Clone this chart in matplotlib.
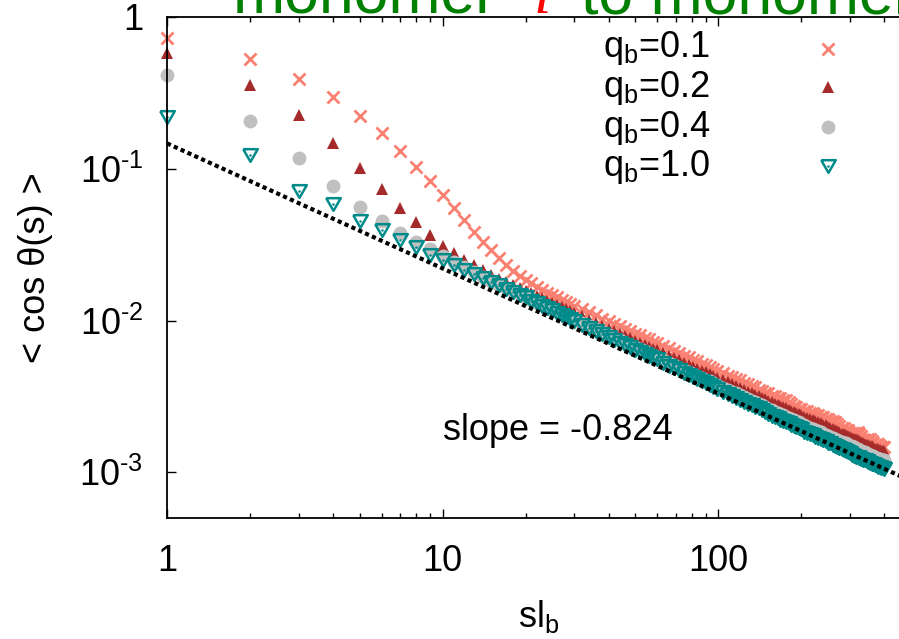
import matplotlib
matplotlib.use("Agg")
import matplotlib.pyplot as plt
from matplotlib.ticker import FixedLocator, FixedFormatter, NullLocator, LogLocator, NullFormatter

plt.rcParams['font.family'] = ['Liberation Sans', 'DejaVu Sans']
plt.rcParams['mathtext.fontset'] = 'custom'
plt.rcParams['mathtext.rm'] = 'Liberation Sans'
plt.rcParams['mathtext.it'] = 'Liberation Sans:italic'
plt.rcParams['mathtext.bf'] = 'Liberation Sans:bold'
plt.rcParams['axes.unicode_minus'] = False

# ---------------- data ----------------
s_vals = [1, 2, 3, 4, 5, 6, 7, 8, 9, 10,
          11, 12, 13, 14, 15, 16, 17, 18, 19, 20,
          21, 22, 23, 24, 25, 26, 27, 28, 29, 30,
          32, 34, 36, 38, 40, 42, 44, 46, 48, 50, 52, 54, 56, 58, 60,
          63, 66, 69, 72, 75, 78, 81, 84, 87, 90, 93, 96, 99,
          104, 108, 112, 116, 120, 124, 128, 132, 136, 140, 144, 148, 152, 156, 160,
          164, 168, 172, 176, 180, 184, 188, 192, 196, 200,
          205, 210, 215, 220, 225, 230, 235, 240, 245, 250,
          255, 260, 265, 270, 275, 280, 285, 290, 295, 300,
          305, 310, 315, 320, 325, 330, 335, 340, 345, 350,
          355, 360, 365, 370, 375, 380, 385, 390, 395, 400]

cos_q01 = [0.727, 0.528, 0.388, 0.295, 0.223, 0.171, 0.130, 0.103, 0.0825, 0.0670,
           0.0548, 0.0457, 0.0384, 0.0331, 0.0290, 0.0257, 0.0232, 0.0213, 0.0197, 0.0186,
           0.0176, 0.0167, 0.0160, 0.0153, 0.0147, 0.0142, 0.0137, 0.0133, 0.0129, 0.0125,
           0.0119, 0.0113, 0.0108, 0.0103, 0.00991, 0.00946, 0.00917, 0.00878, 0.00853, 0.00819,
           0.00805, 0.00769, 0.00752, 0.00725, 0.00711,
           0.00678, 0.00662, 0.00629, 0.00612, 0.00587, 0.00577, 0.00550, 0.00539, 0.00519, 0.00513,
           0.00491, 0.00482, 0.00466,
           0.00451, 0.00431, 0.00424, 0.00410, 0.00403, 0.00385, 0.00381, 0.00368, 0.00365, 0.00349,
           0.00345, 0.00335, 0.00332, 0.00318, 0.00316, 0.00308, 0.00309, 0.00299, 0.00300, 0.00290,
           0.00280, 0.00272, 0.00270, 0.00262, 0.00262,
           0.00253, 0.00252, 0.00245, 0.00246, 0.00238, 0.00239, 0.00231, 0.00232, 0.00224, 0.00225,
           0.00219, 0.00219, 0.00213, 0.00207, 0.00202, 0.00196, 0.00196, 0.00189, 0.00189, 0.00182,
           0.00182, 0.00182, 0.00182, 0.00183, 0.00178, 0.00174, 0.00167, 0.00163, 0.00163, 0.00165,
           0.00165, 0.00161, 0.00156, 0.00151, 0.00153, 0.00154, 0.00150, 0.00147, 0.00147, 0.00146]

cos_q02 = [0.581, 0.356, 0.225, 0.148, 0.101, 0.0740, 0.0555, 0.0446, 0.0367, 0.0312,
           0.0277, 0.0250, 0.0231, 0.0214, 0.0200, 0.0189, 0.0179, 0.0171, 0.0164, 0.0157,
           0.0151, 0.0145, 0.0140, 0.0135, 0.0131, 0.0126, 0.0122, 0.0119, 0.0116, 0.0112,
           0.0107, 0.0101, 0.00966, 0.00925, 0.00886, 0.00852, 0.00819, 0.00790, 0.00762, 0.00737,
           0.00714, 0.00692, 0.00672, 0.00653, 0.00635,
           0.00610, 0.00587, 0.00566, 0.00547, 0.00528, 0.00512, 0.00495, 0.00481, 0.00467, 0.00455,
           0.00442, 0.00431, 0.00420,
           0.00403, 0.00391, 0.00379, 0.00369, 0.00358, 0.00349, 0.00340, 0.00331, 0.00324, 0.00316,
           0.00311, 0.00304, 0.00297, 0.00291, 0.00284, 0.00279, 0.00274, 0.00269, 0.00264, 0.00259,
           0.00254, 0.00250, 0.00245, 0.00241, 0.00237,
           0.00232, 0.00229, 0.00224, 0.00221, 0.00218, 0.00214, 0.00212, 0.00206, 0.00204, 0.00200,
           0.00196, 0.00194, 0.00189, 0.00187, 0.00184, 0.00180, 0.00179, 0.00175, 0.00174, 0.00170,
           0.00169, 0.00166, 0.00165, 0.00164, 0.00161, 0.00159, 0.00156, 0.00154, 0.00152, 0.00152,
           0.00150, 0.00148, 0.00146, 0.00143, 0.00143, 0.00142, 0.00141, 0.00139, 0.00138, 0.00138]

cos_q04 = [0.414, 0.207, 0.117, 0.0775, 0.0560, 0.0455, 0.0375, 0.0329, 0.0295, 0.0265,
           0.0243, 0.0224, 0.0208, 0.0194, 0.0183, 0.0172, 0.0164, 0.0156, 0.0149, 0.0143,
           0.0136, 0.0131, 0.0127, 0.0122, 0.0118, 0.0114, 0.0111, 0.0108, 0.0105, 0.0102,
           0.00964, 0.00917, 0.00874, 0.00837, 0.00801, 0.00771, 0.00741, 0.00715, 0.00690, 0.00667,
           0.00646, 0.00626, 0.00608, 0.00591, 0.00575,
           0.00547, 0.00527, 0.00507, 0.00490, 0.00473, 0.00459, 0.00444, 0.00432, 0.00419, 0.00408,
           0.00397, 0.00386, 0.00376,
           0.00362, 0.00350, 0.00340, 0.00331, 0.00321, 0.00313, 0.00305, 0.00297, 0.00290, 0.00284,
           0.00277, 0.00270, 0.00262, 0.00256, 0.00251, 0.00246, 0.00242, 0.00237, 0.00233, 0.00228,
           0.00224, 0.00221, 0.00216, 0.00213, 0.00209,
           0.00205, 0.00200, 0.00197, 0.00194, 0.00190, 0.00187, 0.00184, 0.00180, 0.00177, 0.00174,
           0.00171, 0.00168, 0.00166, 0.00164, 0.00161, 0.00159, 0.00157, 0.00155, 0.00152, 0.00150,
           0.00148, 0.00146, 0.00143, 0.00142, 0.00140, 0.00139, 0.00137, 0.00136, 0.00133, 0.00132,
           0.00130, 0.00129, 0.00128, 0.00125, 0.00124, 0.00123, 0.00122, 0.00121, 0.00121, 0.00120]

cos_q10 = [0.220, 0.123, 0.0718, 0.0585, 0.0450, 0.0395, 0.0340, 0.0305, 0.0272, 0.0250,
           0.0232, 0.0216, 0.0202, 0.0191, 0.0180, 0.0171, 0.0162, 0.0155, 0.0148, 0.0142,
           0.0135, 0.0130, 0.0125, 0.0121, 0.0117, 0.0112, 0.0109, 0.0106, 0.0103, 0.00999,
           0.00939, 0.00892, 0.00851, 0.00815, 0.00780, 0.00744, 0.00715, 0.00690, 0.00666, 0.00644,
           0.00624, 0.00604, 0.00586, 0.00570, 0.00554,
           0.00523, 0.00503, 0.00485, 0.00469, 0.00453, 0.00438, 0.00424, 0.00409, 0.00397, 0.00386,
           0.00376, 0.00366, 0.00356,
           0.00336, 0.00326, 0.00316, 0.00308, 0.00298, 0.00291, 0.00284, 0.00276, 0.00270, 0.00264,
           0.00257, 0.00251, 0.00241, 0.00236, 0.00231, 0.00227, 0.00222, 0.00218, 0.00214, 0.00210,
           0.00206, 0.00203, 0.00199, 0.00196, 0.00193,
           0.00185, 0.00181, 0.00178, 0.00175, 0.00172, 0.00169, 0.00166, 0.00163, 0.00160, 0.00157,
           0.00155, 0.00152, 0.00149, 0.00147, 0.00145, 0.00143, 0.00141, 0.00139, 0.00137, 0.00135,
           0.00131, 0.00129, 0.00127, 0.00126, 0.00124, 0.00123, 0.00121, 0.00120, 0.00118, 0.00117,
           0.00115, 0.00114, 0.00113, 0.00111, 0.00110, 0.00109, 0.00108, 0.00107, 0.00106, 0.00105]

series_labels = [r'q$_{\mathrm{b}}$=0.1', r'q$_{\mathrm{b}}$=0.2',
                 r'q$_{\mathrm{b}}$=0.4', r'q$_{\mathrm{b}}$=1.0']

fit_amplitude = 0.147
fit_slope = -0.824
fit_x = [1, 500]

x_ticks = [1, 10, 100]
x_ticklabels = ['1', '10', '100']
y_ticks = [1e-3, 1e-2, 1e-1, 1]
y_ticklabels = [r'$\mathregular{10^{\text{-}3}}$', r'$\mathregular{10^{\text{-}2}}$',
                r'$\mathregular{10^{\text{-}1}}$', '1']

# ---------------- styles ----------------
c_salmon = '#FA8072'
c_brown = '#A52A2A'
c_gray = '#C0C0C0'
c_teal = '#008B8B'
tri_down = [(-1, 0.866), (1, 0.866), (0, -0.866), (-1, 0.866)]

styles = [
    dict(marker='x', ms=9, mew=2.0, color=c_salmon, mfc=c_salmon, mec=c_salmon),
    dict(marker='^', ms=9, mew=0, color=c_brown, mfc=c_brown, mec=c_brown),
    dict(marker='o', ms=10, mew=0, color=c_gray, mfc=c_gray, mec=c_gray),
    dict(marker=tri_down, ms=10.5, mew=1.8, color=c_teal, mfc='none', mec=c_teal),
]

FS = 26
W, H = 899, 639
fig = plt.figure(figsize=(W / 100, H / 100), dpi=100)
# axes box (right edge extends past the canvas, as in the cropped reference)
left_px, right_px, top_px, bottom_px = 167, 911, 17, 518
ax = fig.add_axes([left_px / W, (H - bottom_px) / H,
                   (right_px - left_px) / W, (bottom_px - top_px) / H])
ax.set_xscale('log')
ax.set_yscale('log')
ax.set_xlim(1, 500)
ax.set_ylim(5e-4, 1)

all_series = [cos_q01, cos_q02, cos_q04, cos_q10]
for vals, st in zip(all_series, styles):
    ax.plot(s_vals, vals, linestyle='none', clip_on=False, zorder=2, **st)
# small centre dots of the open down-triangles
ax.plot(s_vals, cos_q10, linestyle='none', marker='o', ms=1.8, mew=0,
        color=c_teal, clip_on=False, zorder=2)

fit_y = [fit_amplitude * x ** fit_slope for x in fit_x]
ax.plot(fit_x, fit_y, color='black', lw=3.0, linestyle=(0, (1.0, 0.8)),
        dash_capstyle='butt', zorder=4)

# ticks
ax.xaxis.set_major_locator(FixedLocator(x_ticks))
ax.xaxis.set_major_formatter(FixedFormatter(x_ticklabels))
ax.xaxis.set_minor_locator(LogLocator(base=10, subs=[2, 3, 4, 5, 6, 7, 8, 9], numticks=20))
ax.xaxis.set_minor_formatter(NullFormatter())
ax.yaxis.set_major_locator(FixedLocator(y_ticks))
ax.yaxis.set_major_formatter(FixedFormatter(y_ticklabels))
ax.yaxis.set_minor_locator(NullLocator())
ax.tick_params(which='both', direction='in', top=True, right=True, width=1.0, colors='black')
ax.tick_params(which='major', length=6.5, labelsize=FS)
ax.tick_params(which='minor', length=3.6)
ax.tick_params(axis='x', which='major', pad=19)
ax.tick_params(axis='y', which='major', pad=17)
for sp in ax.spines.values():
    sp.set_linewidth(1.3)

# legend (drawn manually, gnuplot style: text left, symbol right)
leg_text_y = [57, 97, 137, 176]
leg_mark_y = [49, 87, 127, 166]
for lab, ty, my, st in zip(series_labels, leg_text_y, leg_mark_y, styles):
    fig.text(603 / W, (H - ty) / H, lab, fontsize=FS, ha='left', va='baseline')
    ax.plot([(828 - left_px) / (right_px - left_px)],
            [(bottom_px - my) / (bottom_px - top_px)],
            linestyle='none', transform=ax.transAxes, clip_on=False, **st)
ax.plot([(828 - left_px) / (right_px - left_px)],
        [(bottom_px - leg_mark_y[3]) / (bottom_px - top_px)],
        linestyle='none', marker='o', ms=1.8, mew=0, color=c_teal,
        transform=ax.transAxes, clip_on=False)

# annotations
fig.text(443 / W, (H - 440) / H, 'slope = -0.824', fontsize=FS, ha='left', va='baseline')
fig.text(539 / W, (H - 627) / H, r'sl$_{\mathrm{b}}$', fontsize=FS, ha='center', va='baseline')
fig.text(36 / W, (H - 268) / H, '< cos θ(s) >', fontsize=FS, rotation=90,
         ha='center', va='center')

# title (cut off at the top, as in the reference)
TFS = 45
fig.text(233 / W, (H - 13) / H, 'monomer', fontsize=TFS, color='#008000',
         ha='left', va='baseline')
fig.text(534 / W, (H - 13) / H, 'i', fontsize=TFS, color='#FF0000', style='italic',
         family=['Liberation Serif', 'DejaVu Serif'], ha='left', va='baseline')
fig.text(581 / W, (H - 13) / H, 'to monomer', fontsize=TFS, color='#008000',
         ha='left', va='baseline')

fig.savefig('out.png', dpi=100)
